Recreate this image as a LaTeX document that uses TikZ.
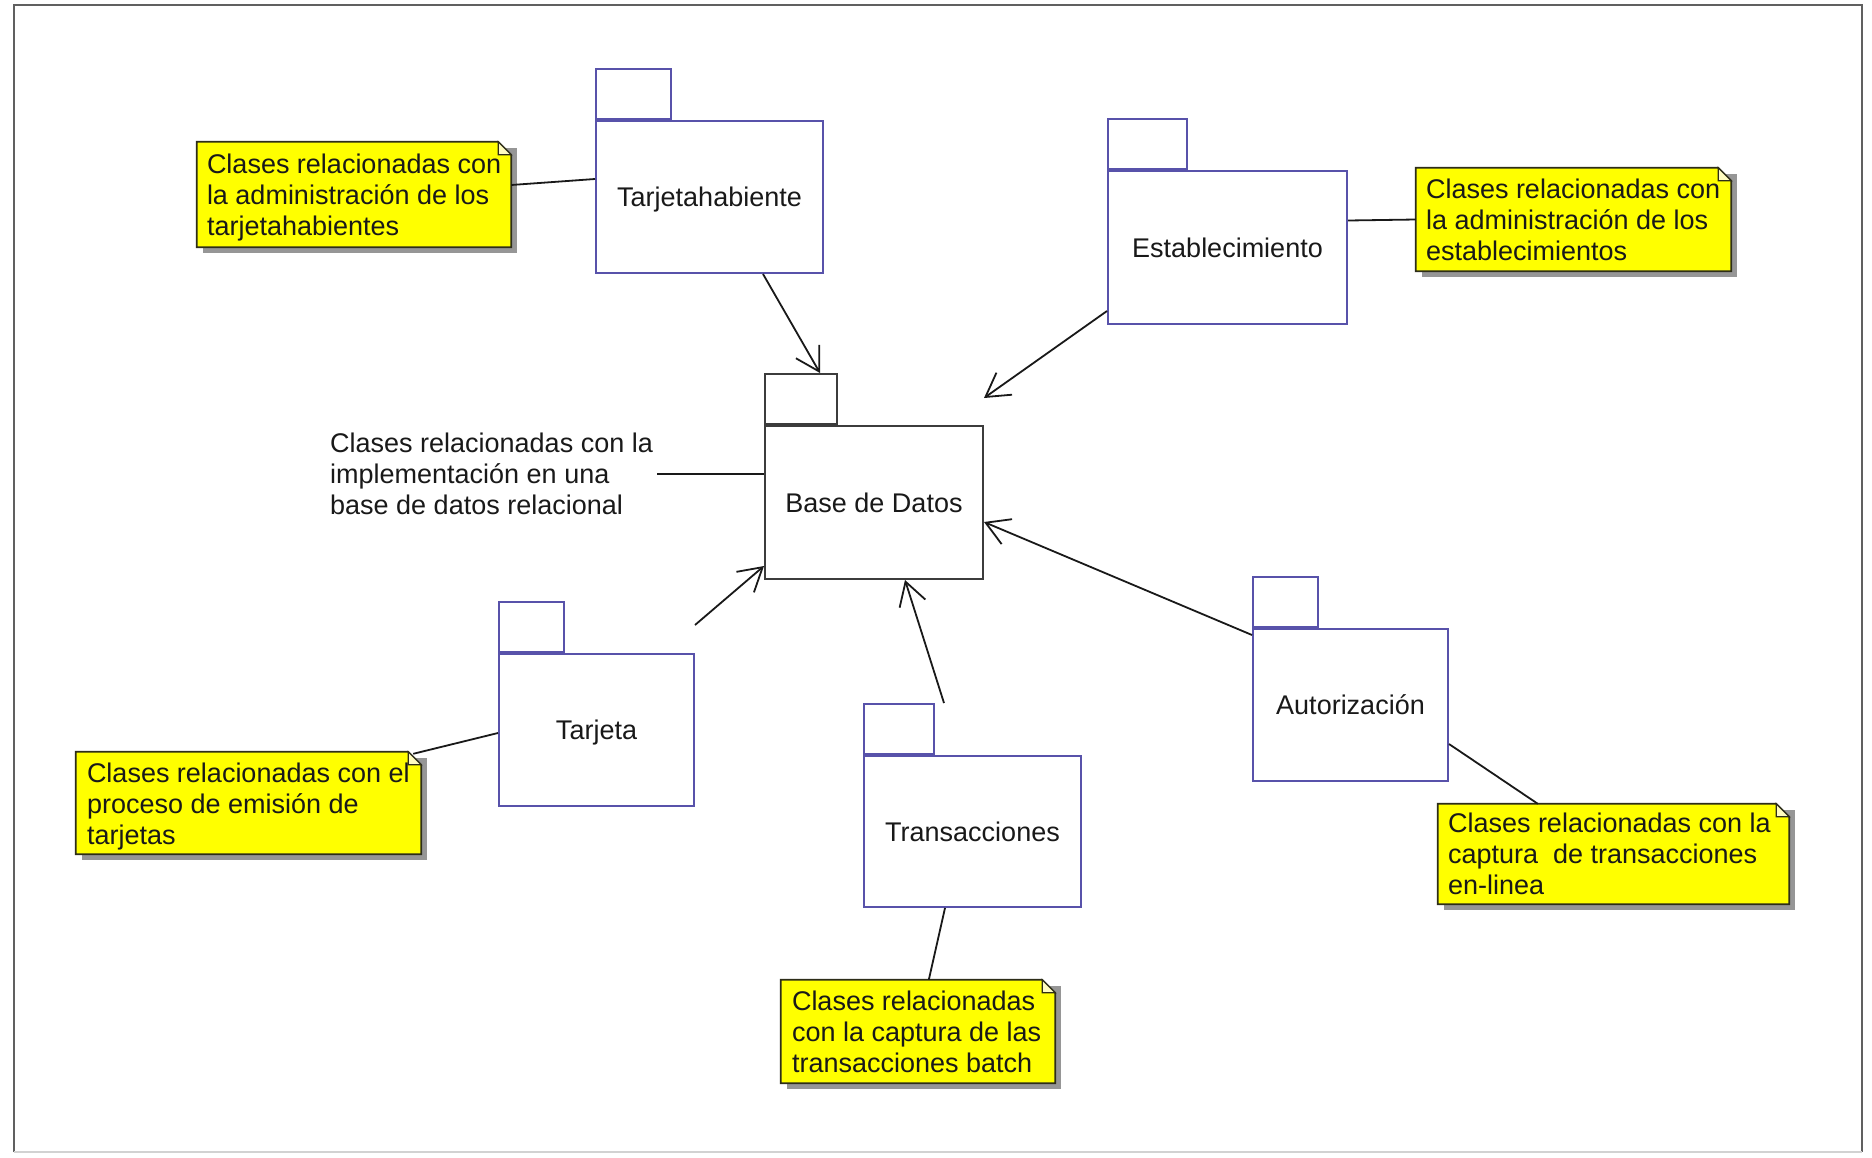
\documentclass[tikz,border=0pt]{standalone}
\usepackage{fontspec}
\setmainfont{Liberation Sans}
\usetikzlibrary{arrows.meta,backgrounds}

\definecolor{pkgblue}{RGB}{88,82,170}
\definecolor{noteyellow}{RGB}{255,255,0}
\definecolor{noteedge}{RGB}{45,45,25}
\definecolor{shadowgray}{RGB}{150,150,150}
\definecolor{inkblack}{RGB}{25,25,25}

\tikzset{
  every node/.style={font=\fontsize{27}{31}\selectfont, text=inkblack},
  pkg/.style={draw=pkgblue, line width=2pt, rectangle, inner sep=0pt, text depth=0pt},
  pkgtab/.style={draw=pkgblue, line width=2pt, rectangle, inner sep=0pt, minimum height=50pt, anchor=south west},
  dbpkg/.style={pkg, draw=inkblack!85},
  dbtab/.style={pkgtab, draw=inkblack!85},
  notebox/.style={rectangle, inner sep=0pt},
  notetext/.style={anchor=west, align=left, inner sep=0pt},
  noteshadow/.style={fill=shadowgray},
  notepaper/.style={fill=noteyellow, draw=noteedge, line width=1.8pt, line join=miter},
  notefold/.style={fill=yellow!25, draw=noteedge, line width=1.2pt},
  depend/.style={draw=inkblack, line width=1.8pt, -{Straight Barb[length=23pt,width=27pt]}},
  anchorline/.style={draw=inkblack, line width=1.8pt},
}

% folded-corner note paper behind a named frame node
\newcommand\dogear[1]{%
  \begin{scope}[on background layer]
    \fill[noteshadow] ([shift={(6pt,-6pt)}]#1.north west) rectangle ([shift={(6pt,-6pt)}]#1.south east);
    \filldraw[notepaper] (#1.north west) -- ([xshift=-13pt]#1.north east)
      -- ([yshift=-13pt]#1.north east) -- (#1.south east) -- (#1.south west) -- cycle;
    \filldraw[notefold] ([xshift=-13pt]#1.north east) -- ([xshift=-13pt,yshift=-13pt]#1.north east)
      -- ([yshift=-13pt]#1.north east) -- cycle;
  \end{scope}}

\begin{document}
\begin{tikzpicture}[x=1pt,y=-1pt]
\useasboundingbox (0,0) rectangle (1872,1157);
\begin{scope}[on background layer]
  \fill[white] (0,0) rectangle (1872,1157);
\end{scope}

% outer frame
\draw[gray!75!black, line width=1.6pt] (14,1152) -- (14,5) -- (1862,5) -- (1862,1152);
\draw[gray!35, line width=1.2pt] (14,1152) -- (1862,1152);

% packages
\node[pkg, minimum width=227pt, minimum height=152pt] (th) at (709.5,197) {Tarjetahabiente};
\node[pkgtab, minimum width=75pt] (thtab) at (th.north west) {};

\node[pkg, minimum width=239pt, minimum height=153pt] (es) at (1227.5,247.5) {Establecimiento};
\node[pkgtab, minimum width=79pt] (estab) at (es.north west) {};

\node[dbpkg, minimum width=218pt, minimum height=153pt] (bd) at (874,502.5) {Base de Datos};
\node[dbtab, minimum width=72pt] (bdtab) at (bd.north west) {};

\node[pkg, minimum width=195pt, minimum height=152pt] (tj) at (596.5,730) {Tarjeta};
\node[pkgtab, minimum width=65pt] (tjtab) at (tj.north west) {};

\node[pkg, minimum width=217pt, minimum height=151pt] (tr) at (972.5,831.5) {Transacciones};
\node[pkgtab, minimum width=70pt] (trtab) at (tr.north west) {};

\node[pkg, minimum width=195pt, minimum height=152pt] (au) at (1350.5,705) {Autorización};
\node[pkgtab, minimum width=65pt] (autab) at (au.north west) {};

% notes
\node[notebox, minimum width=314pt, minimum height=105pt] (n1) at (354,194.5) {};
\dogear{n1}
\node[notetext] (n1t) at ([xshift=10pt,yshift=-3.5pt]n1.west) {Clases relacionadas con\\la administración de los\\tarjetahabientes};

\node[notebox, minimum width=315pt, minimum height=103pt] (n2) at (1573.5,219.5) {};
\dogear{n2}
\node[notetext] (n2t) at ([xshift=10pt]n2.west) {Clases relacionadas con\\la administración de los\\establecimientos};

\node[notebox, minimum width=345pt, minimum height=102pt] (n3) at (248.5,803) {};
\dogear{n3}
\node[notetext] (n3t) at ([xshift=11pt,yshift=-4pt]n3.west) {Clases relacionadas con el\\proceso de emisión de\\tarjetas};

\node[notebox, minimum width=274pt, minimum height=103pt] (n4) at (918,1031.5) {};
\dogear{n4}
\node[notetext] (n4t) at ([xshift=11pt]n4.west) {Clases relacionadas\\con la captura de las\\transacciones batch};

\node[notebox, minimum width=351pt, minimum height=100pt] (n5) at (1613.5,854) {};
\dogear{n5}
\node[notetext] (n5t) at ([xshift=10pt]n5.west) {Clases relacionadas con la\\captura\ \ de transacciones\\en-linea};

% plain comment beside the database package
\node[notetext] (bdnote) at (330,474) {Clases relacionadas con la\\implementación en una\\base de datos relacional};

% dependencies towards the database package
\draw[depend] ([xshift=168pt]th.south west) -- ([xshift=56pt]bdtab.north west);
\draw[depend] ([yshift=14pt]es.south west) -- ([yshift=27pt]bd.north east);
\draw[depend] ([yshift=28pt]tj.north east) -- ([yshift=14pt]bd.south west);
\draw[depend] ([xshift=9pt]trtab.north east) -- ([xshift=141pt]bd.south west);
\draw[depend] ([yshift=-7pt]au.north west) -- ([yshift=-19.5pt]bd.east);

% note attachments
\draw[anchorline] ([yshift=9.5pt]n1.east) -- ([yshift=18pt]th.west);
\draw[anchorline] ([yshift=27pt]es.east) -- (n2.west);
\draw[anchorline] ([xshift=-8pt,yshift=-2pt]n3.north east) -- ([yshift=-3pt]tj.west);
\draw[anchorline] ([xshift=82pt]tr.south west) -- ([xshift=148pt]n4.north west);
\draw[anchorline] ([yshift=-39pt]au.east) -- ([xshift=100pt]n5.north west);
\draw[anchorline] ([xshift=4pt]bdnote.east) -- (bdnote.east -| bd.west);
\end{tikzpicture}
\end{document}
